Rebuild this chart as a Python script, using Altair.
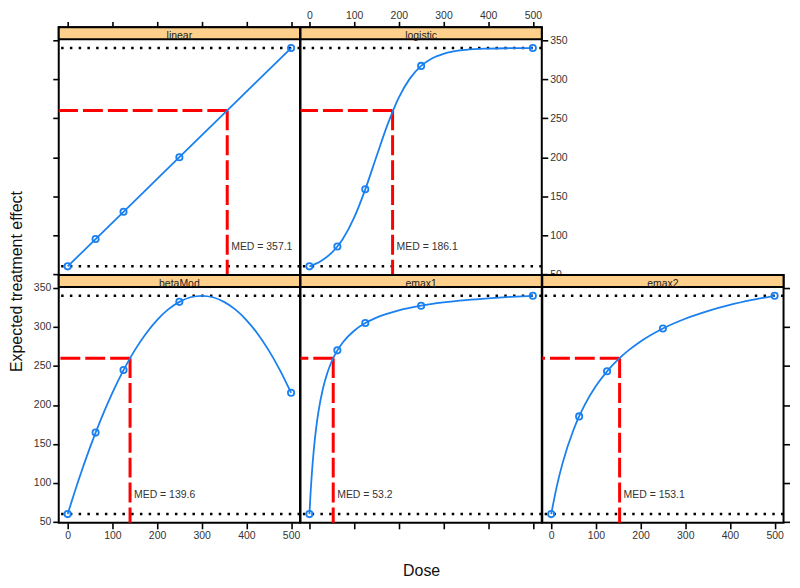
import altair as alt
import pandas as pd

# ---------------- data ----------------
models = ["linear", "logistic", "betaMod", "emax1", "emax2"]
doses = [0, 62.5, 125, 250, 500]
point_eff = {
    "linear":   [60, 95, 130, 200, 340],
    "logistic": [60, 85.5, 158.8, 317.1, 340],
    "betaMod":  [60, 164.5, 244.7, 332.2, 215.6],
    "emax1":    [60, 270, 305, 327.3, 340],
    "emax2":    [60, 185.3, 243.1, 298.0, 340],
}
curve_dose = {
    "linear":   [0, 62.5, 125, 250, 500],
    "logistic": [0, 25, 50, 62.5, 75, 100, 125, 150, 175, 200, 225, 250, 275, 300, 350, 400, 450, 500],
    "betaMod":  [0, 25, 50, 75, 100, 125, 150, 175, 200, 225, 250, 275, 300, 325, 350, 375, 400, 425, 450, 475, 500],
    "emax1":    [0, 2.5, 5, 10, 15, 20, 30, 40, 50, 62.5, 75, 100, 125, 150, 200, 250, 300, 350, 400, 450, 500],
    "emax2":    [0, 12.5, 25, 50, 62.5, 75, 100, 125, 150, 175, 200, 250, 300, 350, 400, 450, 500],
}
curve_eff = {
    "linear":   [60, 95, 130, 200, 340],
    "logistic": [60, 66.5, 77.6, 85.5, 95.5, 122.5, 158.8, 200.9, 242.1, 276.4, 301.1, 317.1, 326.9, 332.6, 337.7, 339.3, 339.8, 340],
    "betaMod":  [60, 104.7, 145.6, 182.5, 215.6, 244.7, 270, 291.4, 308.9, 322.5, 332.2, 338.1, 340, 338.1, 332.2, 322.5, 308.9, 291.4, 270, 244.7, 215.6],
    "emax1":    [60, 86.7, 109, 144, 170.3, 190.7, 220.4, 240.9, 256, 270, 280.5, 295.2, 305, 312, 321.3, 327.3, 331.4, 334.4, 336.7, 338.5, 340],
    "emax2":    [60, 95.6, 124.4, 168.2, 185.3, 200.1, 224.2, 243.1, 258.4, 270.9, 281.4, 298.0, 310.5, 320.3, 328.2, 334.6, 340],
}
med = {"linear": 357.1, "logistic": 186.1, "betaMod": 139.6, "emax1": 53.2, "emax2": 153.1}
target_effect = 260
ref_levels = [60, 340]
med_label_y = 85
x_ticks = [0, 100, 200, 300, 400, 500]
y_ticks = [50, 100, 150, 200, 250, 300, 350]

# ---------------- styling / layout ----------------
W = 242.5
PH = 237
SH = 12
H = PH + SH
X_DOM = [-20, 520]
Y_LO, Y_HI = 48.8, 351.2
Y_TOP = Y_HI + SH * (Y_HI - Y_LO) / PH
BLUE = "#1a80f0"
STRIP = "#ffd08c"
FONT = "Liberation Sans"

xs = alt.Scale(domain=X_DOM, nice=False, zero=False)
ys = alt.Scale(domain=[Y_LO, Y_TOP], nice=False, zero=False)


def mk_axis(kind, orient, values, **kw):
    if kind is None:
        return None
    return alt.Axis(orient=orient, values=values, labels=(kind == "labels"), **kw)


def panel(name, left=None, right=None, top=None, bottom=None, ykw=None, xkw=None):
    cdf = pd.DataFrame({"dose": curve_dose[name], "eff": curve_eff[name]})
    pdf = pd.DataFrame({"dose": doses, "eff": point_eff[name]})
    mdf = pd.DataFrame({"med": [med[name]], "target": [target_effect], "ly": [med_label_y],
                        "label": [f"MED = {med[name]}"]})
    rdf = pd.DataFrame({"v": ref_levels})
    one = pd.DataFrame({"a": [0]})

    ykw = ykw or {}
    xkw = xkw or {}
    strip = alt.Chart(one).mark_rect(fill=STRIP, stroke="black", strokeWidth=2).encode(
        x=alt.value(0), x2=alt.value(W), y=alt.value(0), y2=alt.value(SH))
    stext = alt.Chart(one).mark_text(text=name, font=FONT, fontSize=10.5, color="#222",
                                     baseline="alphabetic").encode(
        x=alt.value(W / 2), y=alt.value(SH - 0.5))
    refs = alt.Chart(rdf).mark_rule(color="black", strokeWidth=2.5, strokeDash=[2.5, 6.3]).encode(
        y=alt.Y("v:Q", scale=ys, axis=None))
    hmed = alt.Chart(mdf).mark_rule(color="red", strokeWidth=3, strokeDash=[20, 5]).encode(
        x=alt.X("med:Q", scale=xs, axis=None), x2=alt.value(0),
        y=alt.Y("target:Q", scale=ys, axis=None))
    vmed = alt.Chart(mdf).mark_rule(color="red", strokeWidth=3, strokeDash=[20, 5]).encode(
        x=alt.X("med:Q", scale=xs, axis=None),
        y=alt.Y("target:Q", scale=ys, axis=None), y2=alt.value(H))
    mtext = alt.Chart(mdf).mark_text(align="left", dx=4, font=FONT, fontSize=10.5, color="#333").encode(
        x=alt.X("med:Q", scale=xs, axis=None),
        y=alt.Y("ly:Q", scale=ys, axis=None), text="label:N")
    line = alt.Chart(cdf).mark_line(color=BLUE, strokeWidth=1.8, interpolate="monotone").encode(
        x=alt.X("dose:Q", scale=xs, title=None, axis=mk_axis(bottom, "bottom", x_ticks, **xkw)),
        y=alt.Y("eff:Q", scale=ys, title=None, axis=mk_axis(left, "left", y_ticks, **ykw)))
    pts = alt.Chart(pdf).mark_point(shape="circle", filled=False, color=BLUE, size=40, strokeWidth=1.8,
                                    opacity=1).encode(
        x=alt.X("dose:Q", scale=xs, title=None, axis=mk_axis(top, "top", x_ticks, labelPadding=1)),
        y=alt.Y("eff:Q", scale=ys, title=None, axis=mk_axis(right, "right", y_ticks)))
    return alt.layer(strip, stext, refs, hmed, vmed, mtext, line, pts).resolve_axis(
        x="independent", y="independent").properties(width=W, height=H)


p_linear = panel("linear", left="ticks", top="ticks",
                 ykw=dict(title="Expected treatment effect", titleX=-34, titleY=255,
                          titleAngle=270, titleAlign="center", titleBaseline="bottom"))
p_logistic = panel("logistic", top="labels", right="labels")
placeholder = alt.Chart(pd.DataFrame({"a": [0]})).mark_point(opacity=0).encode(
    x=alt.X("a:Q", axis=None), y=alt.Y("a:Q", axis=None)).properties(
    width=W, height=H, view=alt.ViewBackground(stroke="transparent"))
p_beta = panel("betaMod", left="labels", bottom="labels")
p_emax1 = panel("emax1", bottom="ticks",
                xkw=dict(title="Dose", titlePadding=33))
p_emax2 = panel("emax2", bottom="labels", right="ticks")

chart = alt.concat(p_linear, p_logistic, placeholder, p_beta, p_emax1, p_emax2,
                   columns=3, spacing=0, bounds="flush").properties(
    padding={"left": 0, "top": 0, "right": 0, "bottom": 0}
).configure_view(stroke="black", strokeWidth=2).configure_axis(
    labelFont=FONT, labelFontSize=10.5, labelColor="#333", labelPadding=2,
    tickColor="black", tickWidth=1.6, tickSize=6, domain=False, grid=False,
    labelFlush=False, labelOverlap=False,
    titleFont=FONT, titleFontSize=16, titleFontWeight="normal", titleColor="#111")

chart.save("out.html", embed_options={"renderer": "svg", "actions": False})
